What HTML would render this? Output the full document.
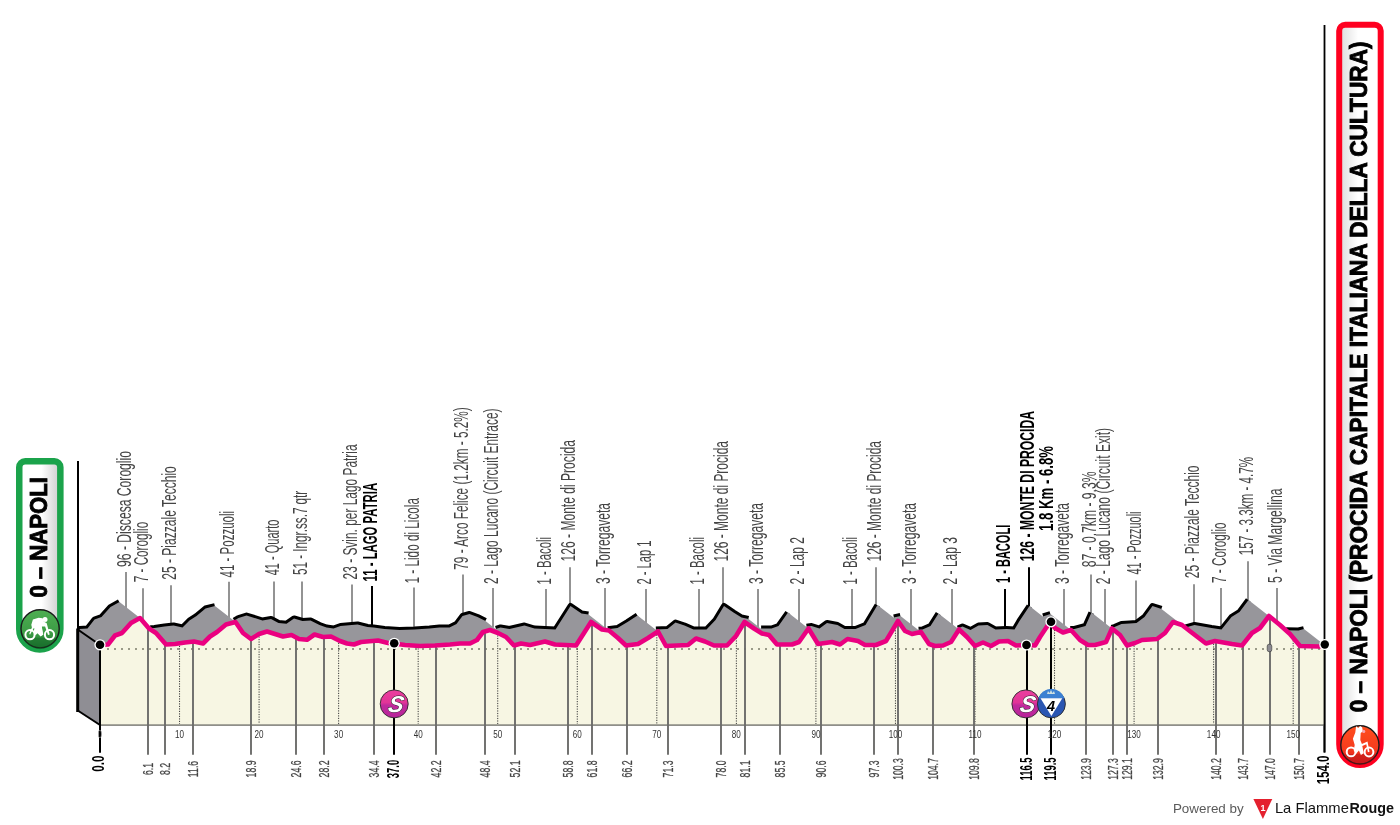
<!DOCTYPE html><html><head><meta charset="utf-8"><style>html,body{margin:0;padding:0;background:#fff;overflow:hidden}svg{display:block;will-change:transform}text{font-family:"Liberation Sans",sans-serif}</style></head><body>
<svg width="1400" height="825" viewBox="0 0 1400 825">
<defs><linearGradient id="gR" gradientUnits="userSpaceOnUse" x1="1342.2" x2="1377.7" y1="0" y2="0"><stop offset="0" stop-color="#e0e0e0"/><stop offset="0.45" stop-color="#fff"/><stop offset="1" stop-color="#fff"/></linearGradient><linearGradient id="gL" gradientUnits="userSpaceOnUse" x1="22.5" x2="57.1" y1="0" y2="0"><stop offset="0" stop-color="#fff"/><stop offset="0.55" stop-color="#fff"/><stop offset="1" stop-color="#d4d4d4"/></linearGradient><linearGradient id="gS" x1="0" x2="0" y1="0" y2="1"><stop offset="0" stop-color="#ec3f9f"/><stop offset="0.45" stop-color="#e13597"/><stop offset="0.55" stop-color="#c02a9c"/><stop offset="1" stop-color="#b9239a"/></linearGradient><linearGradient id="gG" x1="0" x2="0" y1="0" y2="1"><stop offset="0" stop-color="#4fae52"/><stop offset="0.6" stop-color="#3c9c45"/><stop offset="1" stop-color="#1d7a33"/></linearGradient><linearGradient id="gRed" x1="0" x2="0" y1="0" y2="1"><stop offset="0" stop-color="#ff4e1e"/><stop offset="0.6" stop-color="#f53c1e"/><stop offset="1" stop-color="#df1a22"/></linearGradient></defs>
<line x1="78" y1="461" x2="78" y2="712" stroke="#000" stroke-width="2"/>
<line x1="1324.5" y1="25" x2="1324.5" y2="752.5" stroke="#000" stroke-width="1.8"/>
<line x1="126" y1="572.1" x2="126" y2="608.07" stroke="#6f6f6f" stroke-width="1.5"/>
<line x1="143" y1="588.2" x2="143" y2="622.5" stroke="#6f6f6f" stroke-width="1.5"/>
<line x1="171" y1="585.2" x2="171" y2="626.78" stroke="#6f6f6f" stroke-width="1.5"/>
<line x1="229" y1="581.8" x2="229" y2="617.93" stroke="#6f6f6f" stroke-width="1.5"/>
<line x1="274" y1="581.5" x2="274" y2="621.6" stroke="#6f6f6f" stroke-width="1.5"/>
<line x1="302" y1="581.5" x2="302" y2="621.85" stroke="#6f6f6f" stroke-width="1.5"/>
<line x1="352" y1="584.5" x2="352" y2="625.99" stroke="#6f6f6f" stroke-width="1.5"/>
<line x1="372" y1="586" x2="372" y2="628.38" stroke="#000" stroke-width="2"/>
<line x1="414" y1="587.6" x2="414" y2="630.52" stroke="#6f6f6f" stroke-width="1.5"/>
<line x1="463" y1="574.5" x2="463" y2="616.86" stroke="#6f6f6f" stroke-width="1.5"/>
<line x1="493" y1="588" x2="493" y2="627.85" stroke="#6f6f6f" stroke-width="1.5"/>
<line x1="546" y1="589" x2="546" y2="630.05" stroke="#6f6f6f" stroke-width="1.5"/>
<line x1="570" y1="567.3" x2="570" y2="607.78" stroke="#6f6f6f" stroke-width="1.5"/>
<line x1="605" y1="588" x2="605" y2="628.38" stroke="#6f6f6f" stroke-width="1.5"/>
<line x1="646" y1="589" x2="646" y2="623.13" stroke="#6f6f6f" stroke-width="1.5"/>
<line x1="699" y1="589" x2="699" y2="630.5" stroke="#6f6f6f" stroke-width="1.5"/>
<line x1="723" y1="567.3" x2="723" y2="608.65" stroke="#6f6f6f" stroke-width="1.5"/>
<line x1="758" y1="589" x2="758" y2="627.41" stroke="#6f6f6f" stroke-width="1.5"/>
<line x1="799" y1="589" x2="799" y2="622.09" stroke="#6f6f6f" stroke-width="1.5"/>
<line x1="852" y1="589" x2="852" y2="630" stroke="#6f6f6f" stroke-width="1.5"/>
<line x1="876" y1="567.3" x2="876" y2="608.5" stroke="#6f6f6f" stroke-width="1.5"/>
<line x1="911" y1="589" x2="911" y2="625.2" stroke="#6f6f6f" stroke-width="1.5"/>
<line x1="952" y1="589" x2="952" y2="625.04" stroke="#6f6f6f" stroke-width="1.5"/>
<line x1="1005" y1="589" x2="1005" y2="630.07" stroke="#000" stroke-width="2"/>
<line x1="1029" y1="567.3" x2="1029" y2="607.75" stroke="#000" stroke-width="2"/>
<line x1="1064" y1="589" x2="1064" y2="625.54" stroke="#6f6f6f" stroke-width="1.5"/>
<line x1="1091" y1="574.5" x2="1091" y2="614.62" stroke="#6f6f6f" stroke-width="1.5"/>
<line x1="1105" y1="589" x2="1105" y2="624.04" stroke="#6f6f6f" stroke-width="1.5"/>
<line x1="1136" y1="580.6" x2="1136" y2="624.04" stroke="#6f6f6f" stroke-width="1.5"/>
<line x1="1194" y1="584.2" x2="1194" y2="626.14" stroke="#6f6f6f" stroke-width="1.5"/>
<line x1="1221" y1="587.9" x2="1221" y2="630.42" stroke="#6f6f6f" stroke-width="1.5"/>
<line x1="1248" y1="561.2" x2="1248" y2="601.67" stroke="#6f6f6f" stroke-width="1.5"/>
<line x1="1277" y1="587.9" x2="1277" y2="623.55" stroke="#6f6f6f" stroke-width="1.5"/>
<path d="M79.9 628.98 L87.5 628.5 L94.5 619.5 L101.5 617 L110.5 607 L119.4 602.06" fill="none" stroke="#000" stroke-width="6" stroke-linejoin="round"/>
<path d="M150.3 628.23 L154.5 628 L164.5 626.5 L173.5 625.5 L182.5 627.5 L189.5 620.5 L196.5 616 L205.5 608.5 L214.9 606.03" fill="none" stroke="#000" stroke-width="6" stroke-linejoin="round"/>
<path d="M234.3 620.62 L238.5 618 L246.5 615.5 L262.5 620.5 L271 619 L278.5 623 L286.5 623.8 L294 618.5 L302.5 621 L310.5 620.5 L319.5 625 L326.5 627.5 L333.5 628.5 L340.5 626 L357.5 624.5 L367.5 627 L373.5 627.5 L384.5 629 L399.5 630 L414.5 629.5 L429.5 628.5 L439.5 627.5 L449.5 627.5 L456.5 624 L462.5 616 L469.5 614 L477.5 617 L485.4 620.95" fill="none" stroke="#000" stroke-width="6" stroke-linejoin="round"/>
<path d="M495.9 628.81 L500.5 627.5 L509.5 629 L524.5 625.5 L534.5 628.5 L555.5 629.5 L570.5 606 L581.5 613.5 L588.4 614.49" fill="none" stroke="#000" stroke-width="6" stroke-linejoin="round"/>
<path d="M607.8 629.21 L617.5 628 L627.5 622 L637.4 615.57" fill="none" stroke="#000" stroke-width="6" stroke-linejoin="round"/>
<path d="M655.9 629.53 L667.5 629 L675.5 622.5 L684.5 625.5 L693.5 629.5 L706.5 629.5 L715.5 620 L724 606 L733.5 612.5 L741.5 617.5 L748.4 618.98" fill="none" stroke="#000" stroke-width="6" stroke-linejoin="round"/>
<path d="M761.1 628.5 L771.5 628.5 L778.5 626 L787.9 612.64" fill="none" stroke="#000" stroke-width="6" stroke-linejoin="round"/>
<path d="M806.6 626.7 L811.5 626 L819.5 628.5 L827 623 L837.5 625 L844.5 629 L855.5 629 L865.5 625 L877.4 605.17" fill="none" stroke="#000" stroke-width="6" stroke-linejoin="round"/>
<path d="M893.9 617.47 L900.4 616.02" fill="none" stroke="#000" stroke-width="6" stroke-linejoin="round"/>
<path d="M918.6 629.74 L922.5 629.5 L930.5 626 L938.4 613.66" fill="none" stroke="#000" stroke-width="6" stroke-linejoin="round"/>
<path d="M958.1 628.42 L962.5 626.5 L970.5 630 L978.5 625.5 L987.5 625 L995.5 629.5 L1006.5 629 L1014.5 629.5 L1019.5 621 L1029.4 606.15" fill="none" stroke="#000" stroke-width="6" stroke-linejoin="round"/>
<path d="M1043.1 616.31 L1050.4 614.03" fill="none" stroke="#000" stroke-width="6" stroke-linejoin="round"/>
<path d="M1070.2 629 L1074.5 629 L1085.5 626 L1091.4 612.72" fill="none" stroke="#000" stroke-width="6" stroke-linejoin="round"/>
<path d="M1111.7 627.88 L1114.5 627 L1121.5 624 L1129.5 623.5 L1136.5 623 L1144.5 617 L1152.5 606 L1161.4 608.97" fill="none" stroke="#000" stroke-width="6" stroke-linejoin="round"/>
<path d="M1185.8 627.42 L1194.5 625 L1211.5 628 L1221.5 629.5 L1231.5 617 L1239.5 612 L1248.4 600.13" fill="none" stroke="#000" stroke-width="6" stroke-linejoin="round"/>
<path d="M1286.1 630.17 L1298.5 630.5 L1303.9 629.03" fill="none" stroke="#000" stroke-width="6" stroke-linejoin="round"/>
<line x1="77" y1="629" x2="80.5" y2="629" stroke="#000" stroke-width="6"/>
<path d="M79.5 629 L87.5 628.5 L94.5 619.5 L101.5 617 L110.5 607 L119.5 602 L140 618 L146.5 625.58 L149.9 628.24 L150 628.25 L154.5 628 L164.5 626.5 L173.5 625.5 L182.5 627.5 L189.5 620.5 L196.5 616 L205.5 608.5 L215 606 L234 620.81 L238.5 618 L246.5 615.5 L262.5 620.5 L271 619 L278.5 623 L286.5 623.8 L294 618.5 L302.5 621 L310.5 620.5 L319.5 625 L326.5 627.5 L333.5 628.5 L340.5 626 L357.5 624.5 L367.5 627 L373.5 627.5 L384.5 629 L399.5 630 L414.5 629.5 L429.5 628.5 L439.5 627.5 L449.5 627.5 L456.5 624 L462.5 616 L469.5 614 L477.5 617 L485.5 621 L495.6 628.88 L500.5 627.5 L509.5 629 L524.5 625.5 L534.5 628.5 L555.5 629.5 L570.5 606 L581.5 613.5 L588.5 614.5 L607.4 629.25 L617.5 628 L627.5 622 L637.5 615.5 L655.5 629.55 L667.5 629 L675.5 622.5 L684.5 625.5 L693.5 629.5 L706.5 629.5 L715.5 620 L724 606 L733.5 612.5 L741.5 617.5 L748.5 619 L760.7 628.5 L771.5 628.5 L778.5 626 L788 612.5 L806.2 626.7 L806.3 626.74 L811.5 626 L819.5 628.5 L827 623 L837.5 625 L844.5 629 L855.5 629 L865.5 625 L877.5 605 L893.5 617.49 L893.6 617.53 L900.5 616 L918.1 629.74 L918.2 629.77 L922.5 629.5 L930.5 626 L938.5 613.5 L957.8 628.56 L962.5 626.5 L970.5 630 L978.5 625.5 L987.5 625 L995.5 629.5 L1006.5 629 L1014.5 629.5 L1019.5 621 L1029.5 606 L1042.8 616.38 L1050.5 614 L1069.7 628.99 L1069.8 629 L1074.5 629 L1085.5 626 L1091.5 612.5 L1111.3 627.95 L1111.4 627.97 L1114.5 627 L1121.5 624 L1129.5 623.5 L1136.5 623 L1144.5 617 L1152.5 606 L1161.5 609 L1170.5 616 L1185.5 627.5 L1194.5 625 L1211.5 628 L1221.5 629.5 L1231.5 617 L1239.5 612 L1248.5 600 L1269 616 L1280 625 L1285.7 630.13 L1285.8 630.17 L1298.5 630.5 L1304 629 L1324.5 645 L1324.5 726 L100 726 L100 690 L79.5 690 Z" fill="#97969b"/>
<path d="M78.5 630 L100 645 L100 725 L78.5 711 Z" fill="#8f8e94"/>
<path d="M78.5 630 L100 645" stroke="#000" stroke-width="2" fill="none"/>
<path d="M78.5 711 L100 725" stroke="#000" stroke-width="2" fill="none"/>
<line x1="77.7" y1="628.5" x2="77.7" y2="712" stroke="#000" stroke-width="3"/>
<path d="M100 645 L108 644.5 L115 635.5 L122 633 L131 623 L140 618 L149 628.5 L156 633 L166 644.5 L175 644 L185 642.5 L194 641.5 L203 643.5 L210 636.5 L217 632 L226 624.5 L235.5 622 L243 633 L251 639 L259 634 L267 631.5 L283 636.5 L291.5 635 L299 639 L307 639.8 L314.5 634.5 L323 637 L331 636.5 L340 641 L347 643.5 L354 644.5 L361 642 L378 640.5 L388 643 L394 643.5 L405 645 L420 646 L435 645.5 L450 644.5 L460 643.5 L470 643.5 L477 640 L483 632 L490 630 L498 633 L506 637 L514 645.5 L521 643.5 L530 645 L545 641.5 L555 644.5 L576 645.5 L591 622 L602 629.5 L609 630.5 L618 638 L626 645.5 L638 644 L648 638 L658 631.5 L666 646 L688 645 L696 638.5 L705 641.5 L714 645.5 L727 645.5 L736 636 L744.5 622 L754 628.5 L762 633.5 L769 635 L777 644.5 L792 644.5 L799 642 L808.5 628.5 L818 644 L832 642 L840 644.5 L847.5 639 L858 641 L865 645 L876 645 L886 641 L898 621 L905 631 L912 634 L921 632 L929 644 L935 646 L943 645.5 L951 642 L959 629.5 L967 637 L975 646 L983 642.5 L991 646 L999 641.5 L1008 641 L1016 645.5 L1027 645 L1035 645.5 L1040 637 L1050 622 L1055 628 L1063 632.5 L1071 630 L1080 640 L1088 645 L1095 645 L1106 642 L1112 628.5 L1120 635 L1127 645.5 L1135 643 L1142 640 L1150 639.5 L1157 639 L1165 633 L1173 622 L1182 625 L1191 632 L1206 643.5 L1215 641 L1232 644 L1242 645.5 L1252 633 L1260 628 L1269 616 L1280 625 L1290 634 L1300 646 L1319 646.5 L1324.5 645 L1324.5 725 L100 725 Z" fill="#f7f6e3"/>
<path d="M107 648h2v2h-2zM114 648h2v2h-2zM121 648h2v2h-2zM128 648h2v2h-2zM135 648h2v2h-2zM142 648h2v2h-2zM149 648h2v2h-2zM156 648h2v2h-2zM163 648h2v2h-2zM170 648h2v2h-2zM177 648h2v2h-2zM184 648h2v2h-2zM191 648h2v2h-2zM198 648h2v2h-2zM205 648h2v2h-2zM212 648h2v2h-2zM219 648h2v2h-2zM226 648h2v2h-2zM233 648h2v2h-2zM240 648h2v2h-2zM247 648h2v2h-2zM254 648h2v2h-2zM261 648h2v2h-2zM268 648h2v2h-2zM275 648h2v2h-2zM282 648h2v2h-2zM289 648h2v2h-2zM296 648h2v2h-2zM303 648h2v2h-2zM310 648h2v2h-2zM317 648h2v2h-2zM324 648h2v2h-2zM331 648h2v2h-2zM338 648h2v2h-2zM345 648h2v2h-2zM352 648h2v2h-2zM359 648h2v2h-2zM366 648h2v2h-2zM373 648h2v2h-2zM380 648h2v2h-2zM387 648h2v2h-2zM394 648h2v2h-2zM401 648h2v2h-2zM408 648h2v2h-2zM415 648h2v2h-2zM422 648h2v2h-2zM429 648h2v2h-2zM436 648h2v2h-2zM443 648h2v2h-2zM450 648h2v2h-2zM457 648h2v2h-2zM464 648h2v2h-2zM471 648h2v2h-2zM478 648h2v2h-2zM485 648h2v2h-2zM492 648h2v2h-2zM499 648h2v2h-2zM506 648h2v2h-2zM513 648h2v2h-2zM520 648h2v2h-2zM527 648h2v2h-2zM534 648h2v2h-2zM541 648h2v2h-2zM548 648h2v2h-2zM555 648h2v2h-2zM562 648h2v2h-2zM569 648h2v2h-2zM576 648h2v2h-2zM583 648h2v2h-2zM590 648h2v2h-2zM597 648h2v2h-2zM604 648h2v2h-2zM611 648h2v2h-2zM618 648h2v2h-2zM625 648h2v2h-2zM632 648h2v2h-2zM639 648h2v2h-2zM646 648h2v2h-2zM653 648h2v2h-2zM660 648h2v2h-2zM667 648h2v2h-2zM674 648h2v2h-2zM681 648h2v2h-2zM688 648h2v2h-2zM695 648h2v2h-2zM702 648h2v2h-2zM709 648h2v2h-2zM716 648h2v2h-2zM723 648h2v2h-2zM730 648h2v2h-2zM737 648h2v2h-2zM744 648h2v2h-2zM751 648h2v2h-2zM758 648h2v2h-2zM765 648h2v2h-2zM772 648h2v2h-2zM779 648h2v2h-2zM786 648h2v2h-2zM793 648h2v2h-2zM800 648h2v2h-2zM807 648h2v2h-2zM814 648h2v2h-2zM821 648h2v2h-2zM828 648h2v2h-2zM835 648h2v2h-2zM842 648h2v2h-2zM849 648h2v2h-2zM856 648h2v2h-2zM863 648h2v2h-2zM870 648h2v2h-2zM877 648h2v2h-2zM884 648h2v2h-2zM891 648h2v2h-2zM898 648h2v2h-2zM905 648h2v2h-2zM912 648h2v2h-2zM919 648h2v2h-2zM926 648h2v2h-2zM933 648h2v2h-2zM940 648h2v2h-2zM947 648h2v2h-2zM954 648h2v2h-2zM961 648h2v2h-2zM968 648h2v2h-2zM975 648h2v2h-2zM982 648h2v2h-2zM989 648h2v2h-2zM996 648h2v2h-2zM1003 648h2v2h-2zM1010 648h2v2h-2zM1017 648h2v2h-2zM1024 648h2v2h-2zM1031 648h2v2h-2zM1038 648h2v2h-2zM1045 648h2v2h-2zM1052 648h2v2h-2zM1059 648h2v2h-2zM1066 648h2v2h-2zM1073 648h2v2h-2zM1080 648h2v2h-2zM1087 648h2v2h-2zM1094 648h2v2h-2zM1101 648h2v2h-2zM1108 648h2v2h-2zM1115 648h2v2h-2zM1122 648h2v2h-2zM1129 648h2v2h-2zM1136 648h2v2h-2zM1143 648h2v2h-2zM1150 648h2v2h-2zM1157 648h2v2h-2zM1164 648h2v2h-2zM1171 648h2v2h-2zM1178 648h2v2h-2zM1185 648h2v2h-2zM1192 648h2v2h-2zM1199 648h2v2h-2zM1206 648h2v2h-2zM1213 648h2v2h-2zM1220 648h2v2h-2zM1227 648h2v2h-2zM1234 648h2v2h-2zM1241 648h2v2h-2zM1248 648h2v2h-2zM1255 648h2v2h-2zM1262 648h2v2h-2zM1269 648h2v2h-2zM1276 648h2v2h-2zM1283 648h2v2h-2zM1290 648h2v2h-2zM1297 648h2v2h-2zM1304 648h2v2h-2zM1311 648h2v2h-2zM1318 648h2v2h-2z" fill="#9a9a88"/>
<line x1="179.55" y1="645.82" x2="179.55" y2="724" stroke="#3a3a3a" stroke-width="1" stroke-dasharray="1.2 1.3"/>
<line x1="259.09" y1="636.47" x2="259.09" y2="724" stroke="#3a3a3a" stroke-width="1" stroke-dasharray="1.2 1.3"/>
<line x1="338.64" y1="642.82" x2="338.64" y2="724" stroke="#3a3a3a" stroke-width="1" stroke-dasharray="1.2 1.3"/>
<line x1="418.18" y1="648.38" x2="418.18" y2="724" stroke="#3a3a3a" stroke-width="1" stroke-dasharray="1.2 1.3"/>
<line x1="497.73" y1="635.4" x2="497.73" y2="724" stroke="#3a3a3a" stroke-width="1" stroke-dasharray="1.2 1.3"/>
<line x1="577.27" y1="646.01" x2="577.27" y2="724" stroke="#3a3a3a" stroke-width="1" stroke-dasharray="1.2 1.3"/>
<line x1="656.82" y1="634.77" x2="656.82" y2="724" stroke="#3a3a3a" stroke-width="1" stroke-dasharray="1.2 1.3"/>
<line x1="736.36" y1="637.9" x2="736.36" y2="724" stroke="#3a3a3a" stroke-width="1" stroke-dasharray="1.2 1.3"/>
<line x1="815.91" y1="643.09" x2="815.91" y2="724" stroke="#3a3a3a" stroke-width="1" stroke-dasharray="1.2 1.3"/>
<line x1="895.45" y1="627.74" x2="895.45" y2="724" stroke="#3a3a3a" stroke-width="1" stroke-dasharray="1.2 1.3"/>
<line x1="975" y1="648.5" x2="975" y2="724" stroke="#3a3a3a" stroke-width="1" stroke-dasharray="1.2 1.3"/>
<line x1="1054.55" y1="629.95" x2="1054.55" y2="724" stroke="#3a3a3a" stroke-width="1" stroke-dasharray="1.2 1.3"/>
<line x1="1134.09" y1="645.78" x2="1134.09" y2="724" stroke="#3a3a3a" stroke-width="1" stroke-dasharray="1.2 1.3"/>
<line x1="1213.64" y1="643.88" x2="1213.64" y2="724" stroke="#3a3a3a" stroke-width="1" stroke-dasharray="1.2 1.3"/>
<line x1="1293.18" y1="640.32" x2="1293.18" y2="724" stroke="#3a3a3a" stroke-width="1" stroke-dasharray="1.2 1.3"/>
<line x1="100" y1="725" x2="1324.5" y2="725" stroke="#8c8c84" stroke-width="1.6"/>
<line x1="148" y1="627.33" x2="148" y2="754.8" stroke="#6c6c6a" stroke-width="1.9"/>
<line x1="165" y1="643.35" x2="165" y2="754.8" stroke="#6c6c6a" stroke-width="1.9"/>
<line x1="193" y1="641.61" x2="193" y2="754.8" stroke="#6c6c6a" stroke-width="1.9"/>
<line x1="251" y1="639" x2="251" y2="754.8" stroke="#6c6c6a" stroke-width="1.9"/>
<line x1="296" y1="637.4" x2="296" y2="754.8" stroke="#6c6c6a" stroke-width="1.9"/>
<line x1="324" y1="636.94" x2="324" y2="754.8" stroke="#6c6c6a" stroke-width="1.9"/>
<line x1="374" y1="640.85" x2="374" y2="754.8" stroke="#6c6c6a" stroke-width="1.9"/>
<line x1="394" y1="643.5" x2="394" y2="754.8" stroke="#000" stroke-width="2"/>
<line x1="436" y1="645.43" x2="436" y2="754.8" stroke="#6c6c6a" stroke-width="1.9"/>
<line x1="485" y1="631.43" x2="485" y2="754.8" stroke="#6c6c6a" stroke-width="1.9"/>
<line x1="515" y1="645.21" x2="515" y2="754.8" stroke="#6c6c6a" stroke-width="1.9"/>
<line x1="568" y1="645.12" x2="568" y2="754.8" stroke="#6c6c6a" stroke-width="1.9"/>
<line x1="592" y1="622.68" x2="592" y2="754.8" stroke="#6c6c6a" stroke-width="1.9"/>
<line x1="627" y1="645.38" x2="627" y2="754.8" stroke="#6c6c6a" stroke-width="1.9"/>
<line x1="668" y1="645.91" x2="668" y2="754.8" stroke="#6c6c6a" stroke-width="1.9"/>
<line x1="721" y1="645.5" x2="721" y2="754.8" stroke="#6c6c6a" stroke-width="1.9"/>
<line x1="745" y1="622.34" x2="745" y2="754.8" stroke="#6c6c6a" stroke-width="1.9"/>
<line x1="780" y1="644.5" x2="780" y2="754.8" stroke="#6c6c6a" stroke-width="1.9"/>
<line x1="821" y1="643.57" x2="821" y2="754.8" stroke="#6c6c6a" stroke-width="1.9"/>
<line x1="874" y1="645" x2="874" y2="754.8" stroke="#6c6c6a" stroke-width="1.9"/>
<line x1="898" y1="621" x2="898" y2="754.8" stroke="#6c6c6a" stroke-width="1.9"/>
<line x1="933" y1="645.33" x2="933" y2="754.8" stroke="#6c6c6a" stroke-width="1.9"/>
<line x1="974" y1="644.88" x2="974" y2="754.8" stroke="#6c6c6a" stroke-width="1.9"/>
<line x1="1027" y1="645" x2="1027" y2="754.8" stroke="#000" stroke-width="2"/>
<line x1="1051" y1="623.2" x2="1051" y2="754.8" stroke="#000" stroke-width="2"/>
<line x1="1086" y1="643.75" x2="1086" y2="754.8" stroke="#6c6c6a" stroke-width="1.9"/>
<line x1="1113" y1="629.31" x2="1113" y2="754.8" stroke="#6c6c6a" stroke-width="1.9"/>
<line x1="1127" y1="645.5" x2="1127" y2="754.8" stroke="#6c6c6a" stroke-width="1.9"/>
<line x1="1158" y1="638.25" x2="1158" y2="754.8" stroke="#6c6c6a" stroke-width="1.9"/>
<line x1="1216" y1="641.18" x2="1216" y2="754.8" stroke="#6c6c6a" stroke-width="1.9"/>
<line x1="1243" y1="644.25" x2="1243" y2="754.8" stroke="#6c6c6a" stroke-width="1.9"/>
<line x1="1270" y1="616.82" x2="1270" y2="754.8" stroke="#6c6c6a" stroke-width="1.9"/>
<line x1="1299" y1="644.8" x2="1299" y2="754.8" stroke="#6c6c6a" stroke-width="1.9"/>
<line x1="100" y1="645" x2="100" y2="752.8" stroke="#000" stroke-width="2"/>
<line x1="1324.5" y1="645" x2="1324.5" y2="752.5" stroke="#000" stroke-width="1.8"/>
<path d="M100 645 L108 644.5 L115 635.5 L122 633 L131 623 L140 618 L149 628.5 L156 633 L166 644.5 L175 644 L185 642.5 L194 641.5 L203 643.5 L210 636.5 L217 632 L226 624.5 L235.5 622 L243 633 L251 639 L259 634 L267 631.5 L283 636.5 L291.5 635 L299 639 L307 639.8 L314.5 634.5 L323 637 L331 636.5 L340 641 L347 643.5 L354 644.5 L361 642 L378 640.5 L388 643 L394 643.5 L405 645 L420 646 L435 645.5 L450 644.5 L460 643.5 L470 643.5 L477 640 L483 632 L490 630 L498 633 L506 637 L514 645.5 L521 643.5 L530 645 L545 641.5 L555 644.5 L576 645.5 L591 622 L602 629.5 L609 630.5 L618 638 L626 645.5 L638 644 L648 638 L658 631.5 L666 646 L688 645 L696 638.5 L705 641.5 L714 645.5 L727 645.5 L736 636 L744.5 622 L754 628.5 L762 633.5 L769 635 L777 644.5 L792 644.5 L799 642 L808.5 628.5 L818 644 L832 642 L840 644.5 L847.5 639 L858 641 L865 645 L876 645 L886 641 L898 621 L905 631 L912 634 L921 632 L929 644 L935 646 L943 645.5 L951 642 L959 629.5 L967 637 L975 646 L983 642.5 L991 646 L999 641.5 L1008 641 L1016 645.5 L1027 645 L1035 645.5 L1040 637 L1050 622 L1055 628 L1063 632.5 L1071 630 L1080 640 L1088 645 L1095 645 L1106 642 L1112 628.5 L1120 635 L1127 645.5 L1135 643 L1142 640 L1150 639.5 L1157 639 L1165 633 L1173 622 L1182 625 L1191 632 L1206 643.5 L1215 641 L1232 644 L1242 645.5 L1252 633 L1260 628 L1269 616 L1280 625 L1290 634 L1300 646 L1319 646.5 L1324.5 645" fill="none" stroke="#ea0080" stroke-width="4.6" stroke-linejoin="round" stroke-linecap="butt"/>
<rect x="1267.2" y="644.2" width="4.6" height="7.5" rx="2" fill="#8c8b92" stroke="#333" stroke-width="0.6"/>
<circle cx="100" cy="644.8" r="5.6" fill="#fff"/><circle cx="100" cy="644.8" r="4.3" fill="#000"/>
<circle cx="394.2" cy="643.3" r="5.6" fill="#fff"/><circle cx="394.2" cy="643.3" r="4.3" fill="#000"/>
<circle cx="1026.5" cy="645" r="5.6" fill="#fff"/><circle cx="1026.5" cy="645" r="4.3" fill="#000"/>
<circle cx="1051" cy="621.8" r="5.6" fill="#fff"/><circle cx="1051" cy="621.8" r="4.3" fill="#000"/>
<circle cx="1324.8" cy="644.5" r="5.6" fill="#fff"/><circle cx="1324.8" cy="644.5" r="4.2" fill="#000"/>
<circle cx="394.2" cy="703.9" r="14" fill="url(#gS)" stroke="#2a2a2a" stroke-width="0.9"/>
<text transform="translate(395 711.9) skewX(-10)" text-anchor="middle" font-size="23" font-weight="bold" font-style="italic" fill="#fff" stroke="#222" stroke-width="0.9" paint-order="stroke">S</text>
<circle cx="1025.9" cy="703.9" r="14" fill="url(#gS)" stroke="#2a2a2a" stroke-width="0.9"/>
<text transform="translate(1026.7 711.9) skewX(-10)" text-anchor="middle" font-size="23" font-weight="bold" font-style="italic" fill="#fff" stroke="#222" stroke-width="0.9" paint-order="stroke">S</text>
<circle cx="1051.4" cy="703.9" r="14" fill="#2a56b2" stroke="#2a2a2a" stroke-width="0.9"/>
<path d="M1038.2 698.2 A14 14 0 0 1 1064.6000000000001 698.2 Z" fill="#3c80d2"/>
<path d="M1040.5 698.2 L1062.3 698.2 L1051.4 716 Z" fill="#fff"/>
<text x="1051" y="710.6" text-anchor="middle" font-size="14.5" font-weight="bold" font-style="italic" fill="#000">4</text>
<path d="M1047 694 l1 -3 l1.5 2 l1.5 -3 l1.5 3 l1.5 -2 l1 3 z" fill="#cfe0e0"/>
<text x="179.55" y="738" text-anchor="middle" font-size="11.6" fill="#333" transform="translate(179.55 0) scale(0.7 1) translate(-179.55 0)">10</text>
<text x="259.09" y="738" text-anchor="middle" font-size="11.6" fill="#333" transform="translate(259.09 0) scale(0.7 1) translate(-259.09 0)">20</text>
<text x="338.64" y="738" text-anchor="middle" font-size="11.6" fill="#333" transform="translate(338.64 0) scale(0.7 1) translate(-338.64 0)">30</text>
<text x="418.18" y="738" text-anchor="middle" font-size="11.6" fill="#333" transform="translate(418.18 0) scale(0.7 1) translate(-418.18 0)">40</text>
<text x="497.73" y="738" text-anchor="middle" font-size="11.6" fill="#333" transform="translate(497.73 0) scale(0.7 1) translate(-497.73 0)">50</text>
<text x="577.27" y="738" text-anchor="middle" font-size="11.6" fill="#333" transform="translate(577.27 0) scale(0.7 1) translate(-577.27 0)">60</text>
<text x="656.82" y="738" text-anchor="middle" font-size="11.6" fill="#333" transform="translate(656.82 0) scale(0.7 1) translate(-656.82 0)">70</text>
<text x="736.36" y="738" text-anchor="middle" font-size="11.6" fill="#333" transform="translate(736.36 0) scale(0.7 1) translate(-736.36 0)">80</text>
<text x="815.91" y="738" text-anchor="middle" font-size="11.6" fill="#333" transform="translate(815.91 0) scale(0.7 1) translate(-815.91 0)">90</text>
<text x="895.45" y="738" text-anchor="middle" font-size="11.6" fill="#333" transform="translate(895.45 0) scale(0.7 1) translate(-895.45 0)">100</text>
<text x="975" y="738" text-anchor="middle" font-size="11.6" fill="#333" transform="translate(975 0) scale(0.7 1) translate(-975 0)">110</text>
<text x="1054.55" y="738" text-anchor="middle" font-size="11.6" fill="#333" transform="translate(1054.55 0) scale(0.7 1) translate(-1054.55 0)">120</text>
<text x="1134.09" y="738" text-anchor="middle" font-size="11.6" fill="#333" transform="translate(1134.09 0) scale(0.7 1) translate(-1134.09 0)">130</text>
<text x="1213.64" y="738" text-anchor="middle" font-size="11.6" fill="#333" transform="translate(1213.64 0) scale(0.7 1) translate(-1213.64 0)">140</text>
<text x="1293.18" y="738" text-anchor="middle" font-size="11.6" fill="#333" transform="translate(1293.18 0) scale(0.7 1) translate(-1293.18 0)">150</text>
<text x="100" y="738" text-anchor="middle" font-size="11.6" fill="#777" transform="translate(100 0) scale(0.66 1) translate(-100 0)">0</text>
<text transform="translate(152.6 769) rotate(-90) scale(0.6 1)" text-anchor="middle" font-size="14.5" fill="#444" stroke="#444" stroke-width="0.25">6.1</text>
<text transform="translate(169.6 769) rotate(-90) scale(0.6 1)" text-anchor="middle" font-size="14.5" fill="#444" stroke="#444" stroke-width="0.25">8.2</text>
<text transform="translate(197.6 769) rotate(-90) scale(0.6 1)" text-anchor="middle" font-size="14.5" fill="#444" stroke="#444" stroke-width="0.25">11.6</text>
<text transform="translate(255.6 769) rotate(-90) scale(0.6 1)" text-anchor="middle" font-size="14.5" fill="#444" stroke="#444" stroke-width="0.25">18.9</text>
<text transform="translate(300.6 769) rotate(-90) scale(0.6 1)" text-anchor="middle" font-size="14.5" fill="#444" stroke="#444" stroke-width="0.25">24.6</text>
<text transform="translate(328.6 769) rotate(-90) scale(0.6 1)" text-anchor="middle" font-size="14.5" fill="#444" stroke="#444" stroke-width="0.25">28.2</text>
<text transform="translate(378.6 769) rotate(-90) scale(0.6 1)" text-anchor="middle" font-size="14.5" fill="#444" stroke="#444" stroke-width="0.25">34.4</text>
<text transform="translate(399.2 769) rotate(-90) scale(0.57 1)" text-anchor="middle" font-size="16.5" font-weight="bold" fill="#000">37.0</text>
<text transform="translate(440.6 769) rotate(-90) scale(0.6 1)" text-anchor="middle" font-size="14.5" fill="#444" stroke="#444" stroke-width="0.25">42.2</text>
<text transform="translate(489.6 769) rotate(-90) scale(0.6 1)" text-anchor="middle" font-size="14.5" fill="#444" stroke="#444" stroke-width="0.25">48.4</text>
<text transform="translate(519.6 769) rotate(-90) scale(0.6 1)" text-anchor="middle" font-size="14.5" fill="#444" stroke="#444" stroke-width="0.25">52.1</text>
<text transform="translate(572.6 769) rotate(-90) scale(0.6 1)" text-anchor="middle" font-size="14.5" fill="#444" stroke="#444" stroke-width="0.25">58.8</text>
<text transform="translate(596.6 769) rotate(-90) scale(0.6 1)" text-anchor="middle" font-size="14.5" fill="#444" stroke="#444" stroke-width="0.25">61.8</text>
<text transform="translate(631.6 769) rotate(-90) scale(0.6 1)" text-anchor="middle" font-size="14.5" fill="#444" stroke="#444" stroke-width="0.25">66.2</text>
<text transform="translate(672.6 769) rotate(-90) scale(0.6 1)" text-anchor="middle" font-size="14.5" fill="#444" stroke="#444" stroke-width="0.25">71.3</text>
<text transform="translate(725.6 769) rotate(-90) scale(0.6 1)" text-anchor="middle" font-size="14.5" fill="#444" stroke="#444" stroke-width="0.25">78.0</text>
<text transform="translate(749.6 769) rotate(-90) scale(0.6 1)" text-anchor="middle" font-size="14.5" fill="#444" stroke="#444" stroke-width="0.25">81.1</text>
<text transform="translate(784.6 769) rotate(-90) scale(0.6 1)" text-anchor="middle" font-size="14.5" fill="#444" stroke="#444" stroke-width="0.25">85.5</text>
<text transform="translate(825.6 769) rotate(-90) scale(0.6 1)" text-anchor="middle" font-size="14.5" fill="#444" stroke="#444" stroke-width="0.25">90.6</text>
<text transform="translate(878.6 769) rotate(-90) scale(0.6 1)" text-anchor="middle" font-size="14.5" fill="#444" stroke="#444" stroke-width="0.25">97.3</text>
<text transform="translate(902.6 769) rotate(-90) scale(0.6 1)" text-anchor="middle" font-size="14.5" fill="#444" stroke="#444" stroke-width="0.25">100.3</text>
<text transform="translate(937.6 769) rotate(-90) scale(0.6 1)" text-anchor="middle" font-size="14.5" fill="#444" stroke="#444" stroke-width="0.25">104.7</text>
<text transform="translate(978.6 769) rotate(-90) scale(0.6 1)" text-anchor="middle" font-size="14.5" fill="#444" stroke="#444" stroke-width="0.25">109.8</text>
<text transform="translate(1032.2 769) rotate(-90) scale(0.57 1)" text-anchor="middle" font-size="16.5" font-weight="bold" fill="#000">116.5</text>
<text transform="translate(1056.2 769) rotate(-90) scale(0.57 1)" text-anchor="middle" font-size="16.5" font-weight="bold" fill="#000">119.5</text>
<text transform="translate(1090.6 769) rotate(-90) scale(0.6 1)" text-anchor="middle" font-size="14.5" fill="#444" stroke="#444" stroke-width="0.25">123.9</text>
<text transform="translate(1117.6 769) rotate(-90) scale(0.6 1)" text-anchor="middle" font-size="14.5" fill="#444" stroke="#444" stroke-width="0.25">127.3</text>
<text transform="translate(1131.6 769) rotate(-90) scale(0.6 1)" text-anchor="middle" font-size="14.5" fill="#444" stroke="#444" stroke-width="0.25">129.1</text>
<text transform="translate(1162.6 769) rotate(-90) scale(0.6 1)" text-anchor="middle" font-size="14.5" fill="#444" stroke="#444" stroke-width="0.25">132.9</text>
<text transform="translate(1220.6 769) rotate(-90) scale(0.6 1)" text-anchor="middle" font-size="14.5" fill="#444" stroke="#444" stroke-width="0.25">140.2</text>
<text transform="translate(1247.6 769) rotate(-90) scale(0.6 1)" text-anchor="middle" font-size="14.5" fill="#444" stroke="#444" stroke-width="0.25">143.7</text>
<text transform="translate(1274.6 769) rotate(-90) scale(0.6 1)" text-anchor="middle" font-size="14.5" fill="#444" stroke="#444" stroke-width="0.25">147.0</text>
<text transform="translate(1303.6 769) rotate(-90) scale(0.6 1)" text-anchor="middle" font-size="14.5" fill="#444" stroke="#444" stroke-width="0.25">150.7</text>
<text transform="translate(104.2 755.5) rotate(-90)" text-anchor="end" font-size="17.4" font-weight="bold" fill="#000" textLength="16.3" lengthAdjust="spacingAndGlyphs">0.0</text>
<text transform="translate(1328.5 755.6) rotate(-90)" text-anchor="end" font-size="17.4" font-weight="bold" fill="#000" textLength="28.6" lengthAdjust="spacingAndGlyphs">154.0</text>
<text transform="translate(131.2 566.9) rotate(-90)" font-size="20" fill="#444" textLength="115.9" lengthAdjust="spacingAndGlyphs">96 - Discesa Coroglio</text>
<text transform="translate(148.2 582.2) rotate(-90)" font-size="20" fill="#444" textLength="60.4" lengthAdjust="spacingAndGlyphs">7 - Coroglio</text>
<text transform="translate(176.2 579.8) rotate(-90)" font-size="20" fill="#444" textLength="113.6" lengthAdjust="spacingAndGlyphs">25 - Piazzale Tecchio</text>
<text transform="translate(234.2 577.5) rotate(-90)" font-size="20" fill="#444" textLength="66.6" lengthAdjust="spacingAndGlyphs">41 - Pozzuoli</text>
<text transform="translate(279.2 575.3) rotate(-90)" font-size="20" fill="#444" textLength="55.7" lengthAdjust="spacingAndGlyphs">41 - Quarto</text>
<text transform="translate(307.2 575) rotate(-90)" font-size="20" fill="#444" textLength="84.2" lengthAdjust="spacingAndGlyphs">51 - Ingr.ss.7 qtr</text>
<text transform="translate(357.2 579.4) rotate(-90)" font-size="20" fill="#444" textLength="135" lengthAdjust="spacingAndGlyphs">23 - Svin. per Lago Patria</text>
<text transform="translate(377.2 581.4) rotate(-90)" font-size="20" font-weight="bold" fill="#000" textLength="98.5" lengthAdjust="spacingAndGlyphs">11 - LAGO PATRIA</text>
<text transform="translate(419.2 583.5) rotate(-90)" font-size="20" fill="#444" textLength="85.5" lengthAdjust="spacingAndGlyphs">1 - Lido di Licola</text>
<text transform="translate(468.2 569.7) rotate(-90)" font-size="20" fill="#444" textLength="162.4" lengthAdjust="spacingAndGlyphs">79 - Arco Felice (1.2km - 5.2%)</text>
<text transform="translate(498.2 584) rotate(-90)" font-size="20" fill="#444" textLength="175.5" lengthAdjust="spacingAndGlyphs">2 - Lago Lucano (Circuit Entrace)</text>
<text transform="translate(551.2 584.4) rotate(-90)" font-size="20" fill="#444" textLength="47.5" lengthAdjust="spacingAndGlyphs">1 - Bacoli</text>
<text transform="translate(575.2 561.5) rotate(-90)" font-size="20" fill="#444" textLength="121.5" lengthAdjust="spacingAndGlyphs">126 - Monte di Procida</text>
<text transform="translate(610.2 584) rotate(-90)" font-size="20" fill="#444" textLength="81" lengthAdjust="spacingAndGlyphs">3 - Torregaveta</text>
<text transform="translate(651.2 584.5) rotate(-90)" font-size="20" fill="#444" textLength="43.9" lengthAdjust="spacingAndGlyphs">2 - Lap 1</text>
<text transform="translate(704.2 584.4) rotate(-90)" font-size="20" fill="#444" textLength="47.4" lengthAdjust="spacingAndGlyphs">1 - Bacoli</text>
<text transform="translate(728.2 561.5) rotate(-90)" font-size="20" fill="#444" textLength="120.5" lengthAdjust="spacingAndGlyphs">126 - Monte di Procida</text>
<text transform="translate(763.2 584) rotate(-90)" font-size="20" fill="#444" textLength="81" lengthAdjust="spacingAndGlyphs">3 - Torregaveta</text>
<text transform="translate(804.2 584.5) rotate(-90)" font-size="20" fill="#444" textLength="47.5" lengthAdjust="spacingAndGlyphs">2 - Lap 2</text>
<text transform="translate(857.2 584.4) rotate(-90)" font-size="20" fill="#444" textLength="47.4" lengthAdjust="spacingAndGlyphs">1 - Bacoli</text>
<text transform="translate(881.2 561.5) rotate(-90)" font-size="20" fill="#444" textLength="120.5" lengthAdjust="spacingAndGlyphs">126 - Monte di Procida</text>
<text transform="translate(916.2 584) rotate(-90)" font-size="20" fill="#444" textLength="81" lengthAdjust="spacingAndGlyphs">3 - Torregaveta</text>
<text transform="translate(957.2 584.5) rotate(-90)" font-size="20" fill="#444" textLength="47.5" lengthAdjust="spacingAndGlyphs">2 - Lap 3</text>
<text transform="translate(1010.2 583) rotate(-90)" font-size="20" font-weight="bold" fill="#000" textLength="58.2" lengthAdjust="spacingAndGlyphs">1 - BACOLI</text>
<text transform="translate(1034.2 561.2) rotate(-90)" font-size="20" font-weight="bold" fill="#000" textLength="150.3" lengthAdjust="spacingAndGlyphs">126 - MONTE DI PROCIDA</text>
<text transform="translate(1069.2 584) rotate(-90)" font-size="20" fill="#444" textLength="81" lengthAdjust="spacingAndGlyphs">3 - Torregaveta</text>
<text transform="translate(1096.2 567.3) rotate(-90)" font-size="20" fill="#444" textLength="95.8" lengthAdjust="spacingAndGlyphs">87 - 0.7km - 9.3%</text>
<text transform="translate(1110.2 584.2) rotate(-90)" font-size="20" fill="#444" textLength="156.3" lengthAdjust="spacingAndGlyphs">2 - Lago Lucano (Circuit Exit)</text>
<text transform="translate(1141.2 574.5) rotate(-90)" font-size="20" fill="#444" textLength="63" lengthAdjust="spacingAndGlyphs">41 - Pozzuoli</text>
<text transform="translate(1199.2 578.2) rotate(-90)" font-size="20" fill="#444" textLength="112.7" lengthAdjust="spacingAndGlyphs">25 - Piazzale Tecchio</text>
<text transform="translate(1226.2 583) rotate(-90)" font-size="20" fill="#444" textLength="60.6" lengthAdjust="spacingAndGlyphs">7 - Coroglio</text>
<text transform="translate(1253.2 555.2) rotate(-90)" font-size="20" fill="#444" textLength="98.2" lengthAdjust="spacingAndGlyphs">157 - 3.3km - 4.7%</text>
<text transform="translate(1282.2 583) rotate(-90)" font-size="20" fill="#444" textLength="94.5" lengthAdjust="spacingAndGlyphs">5 - Via Margellina</text>
<text transform="translate(1052.5 530.9) rotate(-90)" font-size="20" font-weight="bold" fill="#000" textLength="84.9" lengthAdjust="spacingAndGlyphs">1.8 Km - 6.8%</text>
<path d="M19.25 467.25 A6 6 0 0 1 25.25 461.25 L54.35 461.25 A6 6 0 0 1 60.35 467.25 L60.35 628.9000000000001 A20.55 20.55 0 0 1 19.25 628.9000000000001 Z" fill="url(#gL)" stroke="#1ba34b" stroke-width="6.5"/>
<text transform="translate(46.5 597.6) rotate(-90)" font-size="24.2" font-weight="bold" fill="#000" stroke="#000" stroke-width="0.9" textLength="120.5" lengthAdjust="spacingAndGlyphs">0 – NAPOLI</text>
<path d="M1339.2 30.8 A6 6 0 0 1 1345.2 24.8 L1374.7 24.8 A6 6 0 0 1 1380.7 30.8 L1380.7 744.25 A20.75 20.75 0 0 1 1339.2 744.25 Z" fill="url(#gR)" stroke="#ff0020" stroke-width="6"/>
<text transform="translate(1366.5 712.3) rotate(-90)" font-size="24.2" font-weight="bold" fill="#000" stroke="#000" stroke-width="0.9" textLength="670.9" lengthAdjust="spacingAndGlyphs">0 – NAPOLI (PROCIDA CAPITALE ITALIANA DELLA CULTURA)</text>
<g transform="translate(40.1 628.8)">
<circle r="19.1" fill="url(#gG)" stroke="#1a1a1a" stroke-width="1.4"/>
<path d="M-17 9 A18.4 18.4 0 0 0 17 9 Z" fill="#0d5a20" opacity="0.35"/>
<circle cx="-10.1" cy="5.9" r="4.6" fill="none" stroke="#fff" stroke-width="2"/>
<circle cx="9.4" cy="5.9" r="4.6" fill="none" stroke="#fff" stroke-width="2"/>
<path d="M-8.8 -4 L-7.2 -9.3 L-1.5 -11 L2.5 -10.6 L3.6 -7.2 L6.6 -5.6 L9.6 5.6 L7.9 6.2 L5 -2.2 L1.6 -2.4 L2.6 6.2 L0.2 7.2 L-3.2 -0.6 L-6.5 -0.6 L-10.1 5.9 L-10.8 4.6 L-8.2 -1.2 Z" fill="#fff"/>
<circle cx="4.9" cy="-9.3" r="2.5" fill="#fff"/>
<path d="M-5.5 -2 L1.5 -3 L3.2 5.8 L0.5 7.8 L-2.6 4.5 L-4.6 6.5 L-6.4 3.5 Z" fill="#fff"/>
</g>
<g transform="translate(1359.9 744.9)">
<circle r="19.1" fill="url(#gRed)" stroke="#1a1a1a" stroke-width="1.4"/>
<path d="M-17 9 A18.4 18.4 0 0 0 17 9 Z" fill="#a01010" opacity="0.35"/>
<circle cx="-8.8" cy="7" r="4.4" fill="none" stroke="#fff" stroke-width="2"/>
<circle cx="9.1" cy="7.1" r="4.4" fill="none" stroke="#fff" stroke-width="2"/>
<path d="M-4.6 -12.5 L-3.8 -18.6 L-1.6 -17 L0.2 -18.9 L2.2 -17.6 L3 -13.6 L0.8 -11.8 L0.4 -5 L2 -1 L7.6 -3.4 L9.6 6.8 L8 7.4 L6.4 -0.6 L2.4 1.2 L3.8 8.4 L1 10.2 L-1 5.6 L-4 9.2 L-6.2 5.4 L-5.2 0.2 L-7 -6.2 Z" fill="#fff"/>
<circle cx="3.8" cy="-13.5" r="1.6" fill="#f6a3b0"/>
</g>
<text x="1172.9" y="813.1" font-size="13.6" fill="#5a5a5a" textLength="70.8" lengthAdjust="spacingAndGlyphs">Powered by</text>
<path d="M1253.4 798.9 L1272.3 798.9 L1262.9 819.1 Z" fill="#e4202e"/>
<text x="1262.9" y="810.5" text-anchor="middle" font-size="9" font-weight="bold" fill="#fff">1</text>
<text x="1274.9" y="813.1" font-size="15" fill="#111" textLength="74" lengthAdjust="spacingAndGlyphs">La Flamme</text>
<text x="1349.4" y="813.1" font-size="15" font-weight="bold" fill="#111" textLength="44.6" lengthAdjust="spacingAndGlyphs">Rouge</text>
</svg></body></html>
